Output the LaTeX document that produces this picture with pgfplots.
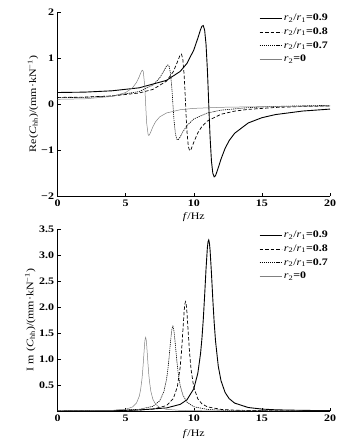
\documentclass[border=0pt]{standalone}
\usepackage{fontspec}
\setmainfont{Liberation Serif}[FakeStretch=1.2]
\usepackage{pgfplots}
\pgfplotsset{compat=1.18}
\newcommand{\fs}{\fontsize{10}{11}\selectfont}
\pgfplotsset{
  mystyle/.style={
    scale only axis, width=272.5bp,
    axis lines=left, axis line style={-, line width=0.6pt},
    xmin=0, xmax=20,
    xtick={0,5,10,15,20}, xticklabels={0,5,10,15,20},
    tick align=inside, major tick length=3bp,
    tick style={black, line width=0.5pt},
    ticklabel style={font=\bfseries\fs},
    label style={font=\fs},
    legend style={draw=none, fill=none, at={(1,1)}, anchor=north east,
      font=\fs, row sep=1.5bp, inner sep=0pt},
    legend cell align=left,
    legend image code/.code={\draw[##1] (0bp,0bp) -- (22bp,0bp);},
  },
  s1/.style={black, line width=0.9pt},
  s2/.style={black, line width=0.7pt, dash pattern=on 3.5bp off 2bp},
  s3/.style={black, line width=0.6pt, dash pattern=on 1.2bp off 0.9bp},
  s4/.style={black!50, line width=0.5pt},
}
\begin{document}
\begin{tikzpicture}
\useasboundingbox (0,0) rectangle (362bp,444bp);
% ---------- top: real part ----------
\begin{axis}[mystyle, at={(57.5bp,248bp)}, anchor=south west, height=184bp,
  ymin=-2, ymax=2, ytick={-2,-1,0,1,2}, yticklabels={−2,−1,0,1,2},
  ylabel={Re(\textit{C}\textsubscript{hh})/(mm·kN\textsuperscript{−1})},
  ylabel style={at={(axis description cs:-0.09,0.5)}, anchor=center},
  xlabel={\textit{f}/Hz},
  xlabel style={at={(axis description cs:0.5,-0.115)}, anchor=center},
]
\addplot[s1] coordinates {(0,0.250)(2,0.258)(4,0.287)(6,0.352)(8,0.514)(9,0.707)(9.5,0.882)(10,1.172)(10.3,1.431)(10.5,1.619)(10.6,1.690)(10.7,1.705)(10.8,1.604)(10.9,1.304)(11.0,0.748)(11.05,0.387)(11.1,0)(11.15,-0.382)(11.2,-0.729)(11.3,-1.245)(11.4,-1.506)(11.5,-1.584)(11.6,-1.557)(11.8,-1.386)(12,-1.198)(12.3,-0.965)(12.6,-0.795)(13,-0.636)(14,-0.412)(15,-0.298)(16,-0.230)(18,-0.153)(20,-0.111)};
\addlegendentry{\textit{r}\textsubscript{2}/\textit{r}\textsubscript{1}\textbf{=0.9}}
\addplot[s2] coordinates {(0,0.143)(2,0.150)(4,0.174)(6,0.240)(7,0.317)(8,0.497)(8.5,0.704)(8.8,0.914)(9.0,1.066)(9.1,1.085)(9.2,0.971)(9.3,0.607)(9.35,0.324)(9.4,0)(9.45,-0.319)(9.5,-0.590)(9.6,-0.922)(9.7,-1.016)(9.8,-0.988)(10,-0.834)(10.3,-0.626)(10.6,-0.488)(11,-0.370)(12,-0.223)(13,-0.155)(14,-0.117)(16,-0.075)(18,-0.054)(20,-0.041)};
\addlegendentry{\textit{r}\textsubscript{2}/\textit{r}\textsubscript{1}\textbf{=0.8}}
\addplot[s3] coordinates {(0,0.137)(2,0.145)(4,0.176)(6,0.271)(7,0.412)(7.5,0.567)(7.8,0.716)(8.0,0.824)(8.1,0.851)(8.2,0.815)(8.3,0.652)(8.4,0.313)(8.47,0)(8.55,-0.345)(8.65,-0.639)(8.75,-0.764)(8.85,-0.780)(9.0,-0.718)(9.2,-0.606)(9.5,-0.469)(10,-0.327)(11,-0.195)(12,-0.134)(14,-0.079)(16,-0.053)(18,-0.039)(20,-0.030)};
\addlegendentry{\textit{r}\textsubscript{2}/\textit{r}\textsubscript{1}\textbf{=0.7}}
\addplot[s4] coordinates {(0,0.102)(2,0.113)(4,0.164)(5,0.249)(5.5,0.351)(5.8,0.469)(6.0,0.594)(6.1,0.669)(6.2,0.729)(6.25,0.733)(6.3,0.696)(6.4,0.397)(6.43,0.239)(6.47,0)(6.51,-0.234)(6.55,-0.428)(6.65,-0.665)(6.7,-0.684)(6.75,-0.670)(6.85,-0.604)(7.0,-0.495)(7.2,-0.384)(7.5,-0.280)(8,-0.195)(9,-0.125)(10,-0.095)(12,-0.072)(14,-0.062)(16,-0.055)(18,-0.050)(20,-0.045)};
\addlegendentry{\textit{r}\textsubscript{2}\textbf{=0}}
\end{axis}
% ---------- bottom: imaginary part ----------
\begin{axis}[mystyle, at={(57.5bp,33bp)}, anchor=south west, height=182bp,
  ymin=0, ymax=3.5, ytick={0.5,1,1.5,2,2.5,3,3.5},
  yticklabels={0.5,1.0,1.5,2.0,2.5,3.0,3.5},
  ylabel={I m (\textit{C}\textsubscript{hh})/(mm·kN\textsuperscript{−1})},
  ylabel style={at={(axis description cs:-0.10,0.5)}, anchor=center},
  xlabel={\textit{f}/Hz},
  xlabel style={at={(axis description cs:0.5,-0.125)}, anchor=center},
]
\addplot[s1] coordinates {(0,0)(2,0.004)(4,0.009)(6,0.020)(8,0.059)(9,0.127)(9.5,0.215)(10,0.426)(10.3,0.726)(10.5,1.107)(10.6,1.393)(10.7,1.764)(10.8,2.225)(10.9,2.726)(11.0,3.141)(11.05,3.258)(11.1,3.289)(11.15,3.229)(11.2,3.088)(11.3,2.646)(11.4,2.145)(11.5,1.699)(11.6,1.342)(11.8,0.861)(12,0.583)(12.3,0.357)(12.6,0.238)(13,0.152)(14,0.067)(15,0.037)(16,0.023)(18,0.012)(20,0.007)};
\addlegendentry{\textit{r}\textsubscript{2}/\textit{r}\textsubscript{1}\textbf{=0.9}}
\addplot[s2] coordinates {(0,0)(2,0.002)(4,0.006)(6,0.018)(7,0.036)(8,0.104)(8.5,0.238)(8.8,0.471)(9.0,0.833)(9.1,1.137)(9.2,1.535)(9.3,1.935)(9.35,2.063)(9.4,2.103)(9.45,2.042)(9.5,1.897)(9.6,1.488)(9.7,1.099)(9.8,0.806)(10,0.458)(10.3,0.233)(10.6,0.138)(11,0.080)(12,0.031)(13,0.016)(14,0.010)(16,0.005)(18,0.003)(20,0.002)};
\addlegendentry{\textit{r}\textsubscript{2}/\textit{r}\textsubscript{1}\textbf{=0.8}}
\addplot[s3] coordinates {(0,0)(2,0.003)(4,0.009)(6,0.032)(7,0.090)(7.5,0.195)(7.8,0.365)(8.0,0.606)(8.1,0.800)(8.2,1.055)(8.3,1.350)(8.4,1.583)(8.47,1.631)(8.55,1.538)(8.65,1.277)(8.75,0.987)(8.85,0.746)(9.0,0.497)(9.2,0.307)(9.5,0.171)(10,0.082)(11,0.031)(12,0.016)(14,0.006)(16,0.003)(18,0.002)(20,0.001)};
\addlegendentry{\textit{r}\textsubscript{2}/\textit{r}\textsubscript{1}\textbf{=0.7}}
\addplot[s4] coordinates {(0,0)(2,0.003)(4,0.012)(5,0.034)(5.5,0.077)(5.8,0.154)(6.0,0.283)(6.1,0.409)(6.2,0.615)(6.25,0.762)(6.3,0.940)(6.4,1.312)(6.43,1.384)(6.47,1.417)(6.51,1.368)(6.55,1.253)(6.65,0.872)(6.7,0.704)(6.75,0.569)(6.85,0.381)(7.0,0.226)(7.2,0.129)(7.5,0.068)(8,0.032)(9,0.012)(10,0.006)(12,0.002)(14,0.001)(16,0.001)(18,0)(20,0)};
\addlegendentry{\textit{r}\textsubscript{2}\textbf{=0}}
\end{axis}
\end{tikzpicture}
\end{document}
